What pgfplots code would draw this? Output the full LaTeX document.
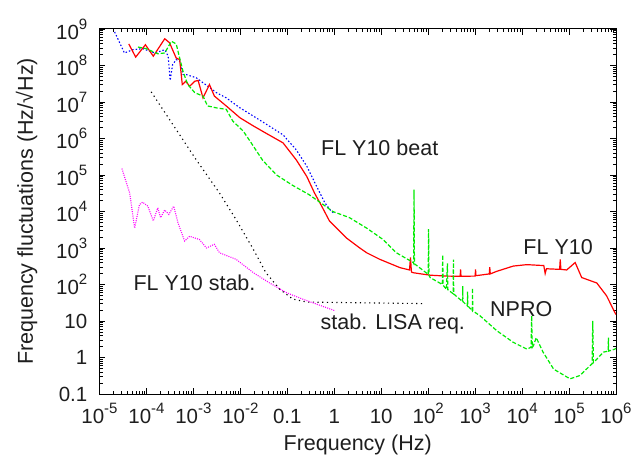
\documentclass[border=0pt]{standalone}
\usepackage{fontspec}
\setmainfont{Liberation Sans}
\usepackage{pgfplots}
\pgfplotsset{compat=1.18}
\newcommand{\sups}[1]{\raisebox{10bp}{\fontsize{15bp}{15bp}\selectfont #1}}
\definecolor{gpred}{RGB}{255,0,0}
\definecolor{gpgreen}{RGB}{0,235,0}
\definecolor{gpblue}{RGB}{0,0,255}
\definecolor{gpmag}{RGB}{255,0,255}
\definecolor{txt}{RGB}{30,30,30}
\begin{document}
\begin{tikzpicture}
\begin{axis}[
  scale only axis, width=516.5bp, height=365bp,
  xmode=log, ymode=log,
  xmin=1e-5, xmax=1e6, ymin=0.1, ymax=1e9,
  xtickten={-5,-4,-3,-2,-1,0,1,2,3,4,5,6},
  ytickten={-1,0,1,2,3,4,5,6,7,8,9},
  xticklabels={10\sups{-5},10\sups{-4},10\sups{-3},10\sups{-2},0.1,1,10,10\sups{2},10\sups{3},10\sups{4},10\sups{5},10\sups{6}},
  yticklabels={0.1,1,10,10\sups{2},10\sups{3},10\sups{4},10\sups{5},10\sups{6},10\sups{7},10\sups{8},10\sups{9}},
  tick align=inside, xtick pos=both, ytick pos=both,
  major tick length=6bp, minor tick length=3.5bp,
  axis line style={line width=1bp, black},
  every tick/.style={black, line width=0.8bp},
  font=\fontsize{21.5bp}{24bp}\selectfont,
  tick label style={font=\fontsize{20.5bp}{24bp}\selectfont, text=txt},
  xticklabel style={anchor=base, yshift=-29.5bp, inner sep=0pt},
  yticklabel style={anchor=east, xshift=-12bp, inner sep=0pt},
  xlabel={Frequency (Hz)},
  ylabel={Frequency fluctuations (Hz/√Hz)},
  label style={text=txt},
  xlabel style={at={(axis description cs:0.5,-0.156)}, anchor=base},
  ylabel style={at={(axis description cs:-0.1288,0.5)}, anchor=base},
]
% blue (dotted)
\addplot[gpblue, line width=1.1bp, dash pattern=on 1.5bp off 2bp] coordinates {
(2.1e-5,8.3e8) (3.4e-5,2.2e8) (5.1e-5,2.7e8) (8.3e-5,2.9e8) (1.5e-4,2.2e8)
(2.45e-4,2.7e8) (2.9e-4,1.8e8) (3.2e-4,3.9e7) (3.6e-4,1.05e8) (4.3e-4,1.45e8)
(5.1e-4,1.3e8) (6.0e-4,5.6e7) (7.2e-4,5.6e7) (1.15e-3,4.6e7) (2.2e-3,2.5e7)
(3.1e-3,1.8e7) (5.0e-3,1.3e7) (9.8e-3,6.9e6) (1.9e-2,4.1e6) (3.5e-2,2.5e6)
(8.1e-2,1.26e6) (0.155,4.9e5) (0.26,1.74e5) (0.42,4.9e4) (0.63,1.74e4)
(0.87,1.0e4) (1.0,9.0e3)
};
% red (solid) FL Y10 / beat
\addplot[gpred, line width=1.2bp] coordinates {
(4.2e-5,3.9e8) (5.9e-5,1.7e8) (9.5e-5,3.7e8) (1.4e-4,1.8e8) (2.45e-4,5.4e8)
(3.1e-4,4.2e8) (4.3e-4,1.6e8) (5.1e-4,1.45e8) (5.8e-4,3.0e7) (6.9e-4,3.7e7)
(8.3e-4,2.7e7) (1.07e-3,3.7e7) (1.26e-3,3.9e7) (1.6e-3,1.3e7) (2.2e-3,3.0e7)
(2.8e-3,1.45e7) (5.0e-3,7.8e6) (9.8e-3,3.7e6) (1.9e-2,2.2e6) (3.5e-2,1.4e6)
(8.1e-2,7.6e5) (0.155,2.6e5) (0.26,9.1e4) (0.38,3.2e4) (0.54,1.4e4)
(0.79,5.5e3) (1.8,1.9e3) (3.5,1.0e3) (4.9,7.4e2) (9.3,4.9e2) (25,2.9e2)
(40,2.5e2) (42,5.5e2) (44,2.2e2) (48,2.1e2) (110,1.8e2) (245,1.7e2)
(480,1.68e2) (490,2.6e2) (500,1.68e2) (1.0e3,1.7e2) (1.02e3,2.6e2) (1.04e3,1.75e2)
(1.26e3,1.8e2) (2.0e3,1.95e2) (2.05e3,3.0e2) (2.1e3,1.95e2) (2.9e3,2.3e2)
(6.5e3,3.2e2) (1.26e4,3.5e2) (2.9e4,3.3e2) (3.1e4,2.0e2) (3.3e4,2.7e2)
(6.3e4,2.6e2) (6.5e4,4.9e2) (6.7e4,2.6e2) (8.9e4,2.5e2) (1.35e5,4.0e2)
(1.86e5,1.55e2) (3.9e5,1.1e2) (6.3e5,49) (9.5e5,17) (1e6,15)
};
% green (dashed) NPRO
\addplot[gpgreen, line width=1.2bp, dash pattern=on 4bp off 2bp] coordinates {
(6.6e-5,3.2e8) (9.8e-5,2.9e8) (1.74e-4,2.1e8) (2.45e-4,2.2e8) (3.4e-4,4.6e8)
(4.3e-4,3.9e8) (5.1e-4,1.6e8) (6.0e-4,6.9e7) (7.6e-4,3.0e7) (1.07e-3,1.8e7)
(1.6e-3,1.45e7) (2.0e-3,7.8e6) (3.1e-3,6.9e6) (5.0e-3,6.3e6) (6.9e-3,3.0e6)
(1.15e-2,1.6e6) (1.7e-2,7.6e5) (2.6e-2,3.3e5) (3.0e-2,2.5e5) (5.9e-2,1.0e5)
(0.13,5.2e4) (0.29,2.9e4) (0.58,1.55e4) (0.93,1.0e4) (2.1,6.8e3) (4.9,3.5e3)
(11,1.7e3) (21,7.4e2) (48,4.0e2) (49,3.8e2) (50,4.0e4) (51,3.7e2)
(100,1.9e2) (102,3.3e3) (104,1.8e2) (110,1.55e2)
(200,1.0e2) (204,6.5e2) (208,95) (245,74) (257,3.8e2) (262,72)
(340,56) (345,4.8e2) (350,55) (540,34) (545,90) (550,34)
(680,26) (690,64) (700,26) (870,19) (880,80) (890,19)
(1.26e3,14) (2.9e3,5.4) (6.5e3,2.6) (1.26e4,1.7) (1.55e4,1.9) (1.6e4,14) (1.65e4,1.9)
(1.74e4,2.1) (2.0e4,3.5) (2.8e4,1.4) (4.7e4,0.48) (1.05e5,0.26) (1.7e5,0.32)
(3.1e5,0.68) (3.2e5,10) (3.3e5,0.72) (5.4e5,1.4) (6.8e5,1.5) (6.9e5,3.5) (7.0e5,1.5)
(9.5e5,1.7) (1e6,1.8)
};
% black (dotted) stab. LISA req.
\addplot[black, line width=1.1bp, dash pattern=on 1.2bp off 3.5bp] coordinates {
(1.26e-4,1.9e7) (1.15e-3,2.6e5) (3.6e-3,3.2e4) (8.1e-3,6.0e3) (1.9e-2,9.1e2)
(3.5e-2,2.1e2) (6.9e-2,74) (0.13,40) (0.26,33) (78,30)
};
% magenta (dotted) FL Y10 stab.
\addplot[gpmag, line width=1.1bp, dash pattern=on 1bp off 1.2bp] coordinates {
(3.0e-5,1.5e5) (4.4e-5,3.2e4) (5.6e-5,3.5e3) (7.1e-5,1.55e4) (8.3e-5,1.8e4)
(1.07e-4,1.4e4) (1.4e-4,5.5e3) (1.74e-4,1.26e4) (2.0e-4,6.8e3) (2.45e-4,1.1e4)
(3.0e-4,8.3e3) (3.8e-4,1.4e4) (4.7e-4,4.9e3) (6.5e-4,1.55e3) (8.3e-4,2.1e3)
(1.35e-3,1.7e3) (1.9e-3,1.0e3) (2.8e-3,1.26e3) (3.6e-3,7.4e2) (8.1e-3,4.9e2)
(1.9e-2,2.1e2) (4.2e-2,1.1e2) (9.5e-2,60) (0.21,40) (0.49,27) (1.05,19)
};
\node[anchor=base west, inner sep=0pt, text=txt] at (axis cs:0.52,3.5e5) {FL Y10 beat};
\node[anchor=base west, inner sep=0pt, text=txt] at (axis cs:1.06e4,6.5e2) {FL Y10};
\node[anchor=base west, inner sep=0pt, text=txt] at (axis cs:2.07e3,13.1) {NPRO};
\node[anchor=base west, inner sep=0pt, text=txt] at (axis cs:5.25e-5,67) {FL Y10 stab.};
\node[anchor=base west, inner sep=0pt, text=txt] at (axis cs:0.51,6.0) {stab. LISA req.};
\end{axis}
\pgfresetboundingbox
\path[use as bounding box] ([xshift=-99.5bp,yshift=-63bp]current axis.south west) rectangle ([xshift=18bp,yshift=29bp]current axis.north east);
\end{tikzpicture}
\end{document}
